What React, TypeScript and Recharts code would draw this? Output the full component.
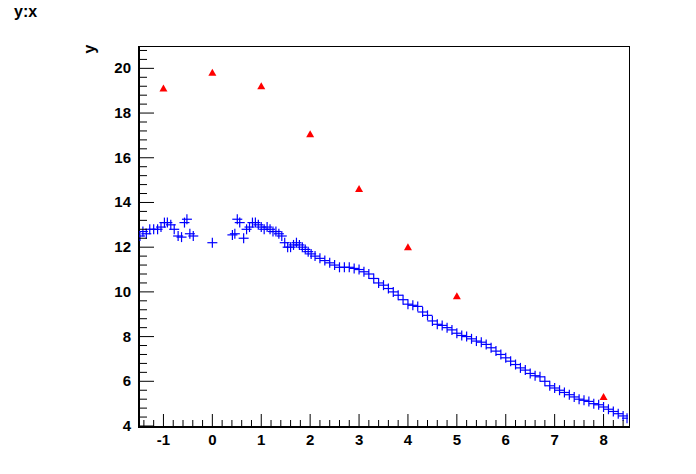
import { Scatter, ScatterChart, XAxis, YAxis } from "recharts";

// blue profile points (x, y)
const blueX = [
  -1.48, -1.42, -1.35, -1.28, -1.2, -1.12, -1.05, -0.98, -0.92, -0.85, -0.78, -0.7, -0.63, -0.57, -0.52, -0.46, -0.39,
  0.0, 0.41, 0.46, 0.51, 0.56, 0.64, 0.7, 0.76, 0.82, 0.88, 0.94, 1.0, 1.06, 1.12, 1.18, 1.24, 1.3, 1.36, 1.42, 1.48,
  1.54, 1.6, 1.66, 1.72, 1.78, 1.84, 1.9, 1.96, 2.02, 2.1, 2.2, 2.3, 2.4, 2.5, 2.6, 2.7, 2.8, 2.9, 3.0, 3.1, 3.2, 3.3,
  3.4, 3.5, 3.6, 3.7, 3.8, 3.9, 4.0, 4.1, 4.2, 4.3, 4.4, 4.5, 4.6, 4.7, 4.8, 4.9, 5.0, 5.1, 5.2, 5.3, 5.4, 5.5, 5.6,
  5.7, 5.8, 5.9, 6.0, 6.1, 6.2, 6.3, 6.4, 6.5, 6.6, 6.7, 6.8, 6.9, 7.0, 7.1, 7.2, 7.3, 7.4, 7.5, 7.6, 7.7, 7.8, 7.9,
  8.0, 8.1, 8.2, 8.3, 8.4, 8.48,
];
const blueY = [
  12.5, 12.7, 12.6, 12.8, 12.8, 12.8, 12.9, 13.1, 13.1, 13.0, 12.8, 12.5, 12.45, 13.1, 13.25, 12.6, 12.5,
  12.2, 12.55, 12.6, 13.25, 13.1, 12.4, 12.8, 12.9, 13.1, 13.1, 13.0, 12.9, 12.8, 12.9, 12.8, 12.7, 12.7, 12.6, 12.5,
  12.2, 12.0, 12.0, 12.1, 12.2, 12.1, 12.0, 11.9, 11.8, 11.7, 11.6, 11.5, 11.4, 11.3, 11.2, 11.1, 11.1, 11.1, 11.05,
  11.0, 10.9, 10.8, 10.6, 10.4, 10.3, 10.15, 10.0, 9.85, 9.65, 9.45, 9.4, 9.35, 9.1, 8.95, 8.7, 8.55, 8.5, 8.4, 8.3,
  8.15, 8.05, 8.0, 7.9, 7.8, 7.75, 7.65, 7.5, 7.35, 7.2, 7.05, 6.9, 6.75, 6.6, 6.5, 6.35, 6.25, 6.2, 6.0, 5.8, 5.7,
  5.6, 5.5, 5.4, 5.3, 5.2, 5.15, 5.1, 5.0, 4.95, 4.85, 4.75, 4.65, 4.55, 4.45, 4.35,
];
const redX = [-1, 0, 1, 2, 3, 4, 5, 8];
const redY = [19.1, 19.8, 19.2, 17.05, 14.6, 12.0, 9.8, 5.3];

const xLabels = [-1, 0, 1, 2, 3, 4, 5, 6, 7, 8];
const yLabels = [4, 6, 8, 10, 12, 14, 16, 18, 20];

const blue = blueX.map((x, i) => ({ x, y: blueY[i] }));
const red = redX.map((x, i) => ({ x, y: redY[i] }));

const xTicks: number[] = [];
for (let i = -7; i <= 42; i++) xTicks.push(Math.round(i * 20) / 100);
const yTicks: number[] = [];
for (let i = 10; i <= 52; i++) yTicks.push(Math.round(i * 40) / 100);

const font = "'Liberation Sans', Arial, sans-serif";

const Cross = (p: any) => (
  <g stroke="#0000ff" strokeWidth={1.2}>
    <line x1={p.cx - 5} x2={p.cx + 5} y1={p.cy} y2={p.cy} />
    <line x1={p.cx} x2={p.cx} y1={p.cy - 5} y2={p.cy + 5} />
  </g>
);
const Tri = (p: any) => (
  <polygon points={`${p.cx},${p.cy - 4} ${p.cx - 4},${p.cy + 3} ${p.cx + 4},${p.cy + 3}`} fill="#ff0000" />
);

const XTick = (p: any) => {
  const v = p.payload.value;
  const major = xLabels.includes(v);
  return (
    <g>
      <line x1={p.x} x2={p.x} y1={426} y2={major ? 414 : 420} stroke="#000" />
      {major && (
        <text x={p.x} y={445} textAnchor="middle" fontFamily={font} fontWeight="bold" fontSize={15}>
          {v}
        </text>
      )}
    </g>
  );
};
const YTick = (p: any) => {
  const v = p.payload.value;
  const major = yLabels.includes(v);
  return (
    <g>
      <line x1={139} x2={major ? 154 : 147} y1={p.y} y2={p.y} stroke="#000" />
      {major && (
        <text x={131} y={p.y + 5} textAnchor="end" fontFamily={font} fontWeight="bold" fontSize={15}>
          {v}
        </text>
      )}
    </g>
  );
};

export default function App() {
  return (
    <div style={{ position: "absolute", left: 0, top: 0, width: 696, height: 474, background: "#fff" }}>
      <div style={{ position: "absolute", left: 138, top: 46, width: 489, height: 379, border: "1px solid #000", borderLeftWidth: 2, borderBottomWidth: 2 }} />
      <div style={{ position: "absolute", left: 14, top: 3, fontFamily: font, fontWeight: "bold", fontSize: 16 }}>y:x</div>
      <div style={{ position: "absolute", left: 86, top: 40, fontFamily: font, fontWeight: "bold", fontSize: 16, transform: "rotate(-90deg)" }}>y</div>
      <ScatterChart width={696} height={474} margin={{ top: 46, right: 68, bottom: 47, left: 138 }} style={{ position: "absolute", left: 0, top: 0 }}>
        <XAxis type="number" dataKey="x" domain={[-1.5, 8.5]} ticks={xTicks} tick={XTick} tickLine={false} axisLine={false} height={1} interval={0} allowDataOverflow />
        <YAxis type="number" dataKey="y" domain={[4, 21]} ticks={yTicks} tick={YTick} tickLine={false} axisLine={false} width={1} interval={0} allowDataOverflow />
        <Scatter data={blue} shape={Cross} isAnimationActive={false} />
        <Scatter data={red} shape={Tri} isAnimationActive={false} />
      </ScatterChart>
    </div>
  );
}
